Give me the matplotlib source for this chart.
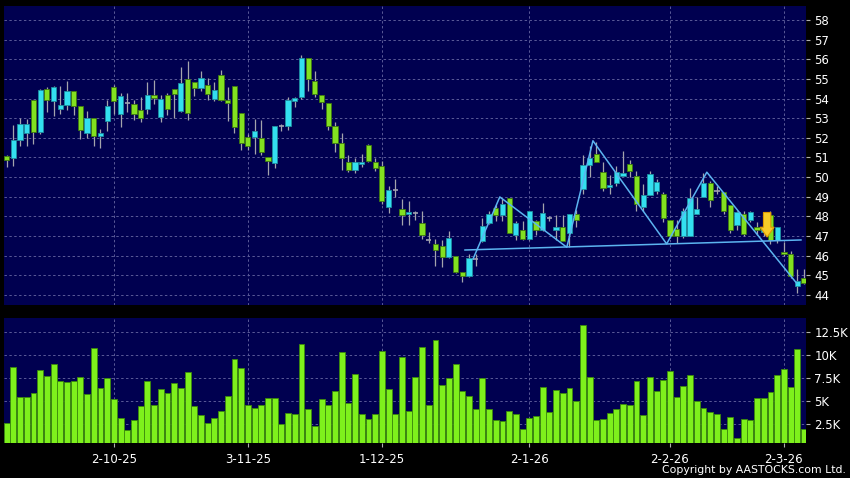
import numpy as np
import matplotlib
matplotlib.use('Agg')
import matplotlib.pyplot as plt
from matplotlib.patches import FancyArrow

# daily OHLC (bar 1 .. 120)
opens = [51.05, 50.96, 51.88, 52.25, 53.9, 52.3, 54.49, 53.87, 53.48, 53.68,
         54.37, 53.61, 52.22, 53.03, 52.1, 52.86, 54.6, 53.23, 53.76, 53.7,
         53.43, 53.48, 54.2, 53.06, 54.2, 54.49, 53.36, 55.0, 54.86, 54.54,
         54.69, 53.97, 55.21, 53.93, 54.65, 53.28, 52.02, 52.02, 51.97, 51.0,
         50.74, 52.6, 52.6, 53.87, 54.07, 56.05, 54.9, 54.18, 53.78, 52.6,
         51.76, 50.76, 50.37, 50.66, 51.63, 50.79, 50.55, 48.5, 49.33, 48.37,
         48.12, 48.15, 47.66, 46.82, 46.62, 46.48, 45.92, 46.0, 45.15, 44.95,
         45.83, 46.75, 47.65, 48.45, 48.08, 48.95, 47.03, 47.32, 46.87, 47.78,
         47.32, 47.9, 47.32, 47.48, 47.17, 48.12, 49.42, 50.62, 51.2, 50.26,
         49.52, 49.72, 50.08, 50.68, 50.08, 48.5, 49.1, 49.27, 49.13, 47.8,
         47.35, 47.0, 47.0, 48.13, 48.97, 49.72, 49.27, 49.22, 48.6, 47.58,
         48.13, 47.8, 47.47, 47.2, 48.05, 46.8, 46.2, 46.1, 44.47, 44.85]
highs = [51.13, 52.64, 53.02, 52.97, 53.9, 54.5, 54.57, 54.62, 54.62, 54.9,
         54.37, 53.61, 53.34, 53.03, 52.47, 53.93, 54.7, 54.3, 54.3, 53.93,
         54.1, 54.86, 54.94, 54.2, 54.3, 54.49, 55.58, 55.92, 54.86, 55.41,
         55.04, 54.82, 55.45, 54.6, 54.65, 53.28, 52.2, 52.94, 52.9, 51.0,
         52.6, 52.72, 54.07, 54.1, 56.2, 56.05, 55.4, 54.18, 53.78, 52.8,
         52.27, 51.13, 50.96, 51.2, 51.7, 50.96, 50.84, 49.55, 49.88, 48.87,
         48.8, 48.3, 48.25, 47.2, 46.87, 46.78, 47.25, 46.0, 45.15, 46.08,
         46.1, 47.92, 48.25, 48.57, 48.9, 48.95, 47.78, 47.78, 48.25, 47.82,
         48.7, 48.03, 48.08, 48.08, 48.12, 48.32, 51.12, 51.6, 51.8, 50.76,
         50.13, 50.55, 51.33, 50.88, 50.33, 49.63, 50.3, 49.88, 49.22, 47.8,
         47.8, 48.43, 49.47, 48.97, 50.22, 49.8, 49.55, 49.22, 48.6, 48.3,
         48.3, 48.3, 47.72, 47.8, 48.3, 47.45, 46.72, 46.22, 45.3, 45.3]
lows = [50.5, 50.57, 51.58, 51.58, 51.7, 52.2, 53.3, 53.1, 53.2, 53.4,
        53.14, 51.93, 51.97, 51.58, 51.5, 52.35, 53.2, 52.55, 53.3, 52.92,
        52.8, 53.2, 53.73, 52.8, 53.14, 53.03, 53.31, 52.9, 54.15, 54.37,
        53.9, 53.87, 53.87, 52.84, 52.25, 51.4, 51.4, 51.2, 51.13, 50.1,
        50.45, 52.35, 52.4, 53.56, 54.0, 54.4, 54.07, 53.48, 52.4, 51.3,
        50.37, 50.24, 50.2, 50.5, 50.79, 50.3, 48.63, 48.17, 48.97, 47.55,
        47.55, 47.8, 46.87, 46.65, 45.48, 45.42, 45.87, 45.12, 44.65, 44.92,
        45.45, 46.7, 47.62, 47.75, 47.78, 47.15, 46.78, 46.78, 46.78, 47.03,
        47.28, 47.78, 46.78, 46.75, 46.42, 47.48, 49.12, 50.03, 50.78, 49.3,
        49.13, 49.55, 50.08, 50.0, 48.3, 48.27, 49.08, 49.13, 47.72, 46.88,
        46.67, 46.92, 47.0, 48.13, 48.97, 48.5, 49.13, 48.13, 47.13, 47.3,
        47.0, 47.72, 47.05, 47.0, 46.6, 46.67, 45.97, 44.88, 44.1, 44.55]
closes = [50.85, 51.88, 52.72, 52.72, 52.3, 54.44, 53.93, 54.57, 53.68, 54.37,
          53.63, 52.42, 53.03, 52.1, 52.22, 53.6, 53.87, 54.15, 53.76, 53.2,
          53.03, 54.2, 54.02, 53.98, 53.48, 54.24, 54.79, 53.28, 54.54, 55.04,
          54.24, 54.44, 53.93, 53.76, 52.55, 51.76, 51.6, 52.35, 51.3, 50.84,
          52.6, 52.6, 53.9, 54.03, 56.05, 55.0, 54.24, 53.8, 52.6, 51.76,
          50.96, 50.37, 50.76, 50.76, 50.84, 50.45, 48.8, 49.33, 49.33, 48.08,
          48.23, 48.15, 47.06, 46.82, 46.28, 45.92, 46.92, 45.15, 44.95, 45.87,
          45.83, 47.53, 48.12, 48.08, 48.65, 47.17, 47.67, 46.83, 48.25, 47.32,
          48.15, 47.9, 47.45, 46.75, 48.12, 47.82, 50.62, 50.98, 50.78, 49.43,
          49.6, 50.27, 50.2, 50.3, 48.63, 49.08, 50.18, 49.75, 47.93, 47.0,
          47.0, 48.3, 48.93, 48.38, 49.72, 48.83, 49.27, 48.27, 47.33, 48.22,
          47.1, 48.22, 47.3, 47.45, 46.8, 47.45, 46.1, 44.97, 44.72, 44.6]
# volume in thousands
volumes = [2.6, 8.72, 5.41, 5.41, 5.85, 8.36, 7.79, 9.01, 7.18, 7.03,
           7.18, 7.68, 5.77, 10.81, 6.42, 7.5, 5.2, 3.18, 1.89, 2.93,
           4.41, 7.21, 4.59, 6.28, 5.88, 6.92, 6.46, 8.15, 4.48, 3.47,
           2.64, 3.11, 3.9, 5.56, 9.62, 8.65, 4.55, 4.3, 4.55, 5.31,
           5.38, 2.5, 3.69, 3.58, 11.2, 4.12, 2.32, 5.27, 4.62, 6.13,
           10.31, 4.8, 7.9, 3.58, 3.04, 3.58, 10.49, 6.28, 3.62, 9.77,
           3.94, 7.68, 10.92, 4.55, 11.71, 6.78, 7.57, 9.08, 6.06, 5.52,
           4.15, 7.54, 4.19, 2.93, 2.86, 3.9, 3.54, 1.96, 3.15, 3.36,
           6.53, 3.85, 6.17, 5.92, 6.46, 5.01, 13.3, 7.63, 2.94, 3.08,
           3.66, 4.14, 4.65, 4.54, 7.23, 3.48, 7.59, 6.14, 7.34, 8.32,
           5.48, 6.68, 7.81, 5.05, 4.25, 3.81, 3.55, 1.92, 3.3, 1.01,
           3.05, 2.9, 5.3, 5.37, 5.99, 7.88, 8.5, 6.5, 10.68, 1.95]

date_pos = [17, 37, 57, 79, 100, 117]
date_labels = ['2-10-25', '3-11-25', '1-12-25', '2-1-26', '2-2-26', '2-3-26']
price_ticks = list(range(44, 59))
vol_ticks = [2.5, 5, 7.5, 10, 12.5]
vol_labels = ['2.5K', '5K', '7.5K', '10K', '12.5K']

# head & shoulders drawing (bar, price)
zigzag_x = [70.6, 74.6, 84.6, 88.5, 99.5, 105.5, 118.9]
zigzag_y = [45.83, 48.99, 46.43, 51.85, 46.6, 50.25, 44.6]
neck_x = [69.4, 119.55]
neck_y = [46.29, 46.8]
arrow_bar, arrow_top, arrow_bottom = 114.5, 48.2, 46.95

bg = '#000050'
grid_c = '#5a5a98'
up_c, up_edge = '#33dff0', '#1f8fa0'
dn_c, dn_edge = '#82e020', '#3f7a10'

x = np.arange(1, len(opens) + 1)
o = np.array(opens); h = np.array(highs); l = np.array(lows); c = np.array(closes)

fig = plt.figure(figsize=(8.5, 4.78), dpi=100, facecolor='black')
ax1 = fig.add_axes([4/850, 1-305/478, 802/850, 299/478], facecolor=bg)
ax2 = fig.add_axes([4/850, 1-443/478, 802/850, 125/478], facecolor=bg)

for ax in (ax1, ax2):
    ax.set_xlim(0.6, 120.3)
    for s in ax.spines.values():
        s.set_visible(False)
    ax.set_xticks(date_pos)
    ax.grid(True, color=grid_c, linestyle=(0, (2.5, 2.5)), linewidth=0.7)
    ax.set_axisbelow(True)
    ax.yaxis.tick_right()
    ax.tick_params(axis='y', colors='#b0b0b0', labelcolor='white', length=3,
                   width=0.8, labelsize=8.5, pad=3)
    ax.tick_params(axis='x', colors='#b0b0b0', labelcolor='white', length=3,
                   width=0.8, labelsize=8.5, pad=4)

# candles
ax1.vlines(x, l, h, color='#a4a4ac', linewidth=0.9, zorder=2)
up = c > o
dn = c < o
dj = c == o
ax1.bar(x[up], (c - o)[up], bottom=o[up], width=0.78, color=up_c,
        edgecolor=up_edge, linewidth=0.6, zorder=3)
ax1.bar(x[dn], (o - c)[dn], bottom=c[dn], width=0.78, color=dn_c,
        edgecolor=dn_edge, linewidth=0.6, zorder=3)
ax1.hlines(c[dj], x[dj] - 0.39, x[dj] + 0.39, color='#a0a0b0', linewidth=1.2, zorder=3)

ax1.plot(zigzag_x, zigzag_y, color='#5cb4f0', linewidth=1.1, zorder=4)
ax1.plot(neck_x, neck_y, color='#5cb4f0', linewidth=1.1, zorder=4)
ax1.add_patch(FancyArrow(arrow_bar, arrow_top, 0, arrow_bottom - arrow_top,
                         width=1.1, head_width=2.1, head_length=0.5,
                         length_includes_head=True, facecolor='#f8cc28',
                         edgecolor='#e09a00', linewidth=0.8, zorder=5))

ax1.set_ylim(43.49, 58.71)
ax1.set_yticks(price_ticks)
ax1.set_xticklabels([])
ax1.tick_params(axis='x', length=0)

# volume
ax2.bar(x, volumes, width=0.88, color='#7ef01c', edgecolor='#3c8a0c',
        linewidth=0.6, zorder=3)
ax2.set_ylim(0.43, 14.06)
ax2.set_yticks(vol_ticks)
ax2.set_yticklabels(vol_labels)
ax2.set_xticklabels(date_labels)

fig.text(0.995, 0.006, 'Copyright by AASTOCKS.com Ltd.', color='white',
         fontsize=7.8, ha='right', va='bottom')

fig.savefig('out.png', dpi=100, facecolor='black')
